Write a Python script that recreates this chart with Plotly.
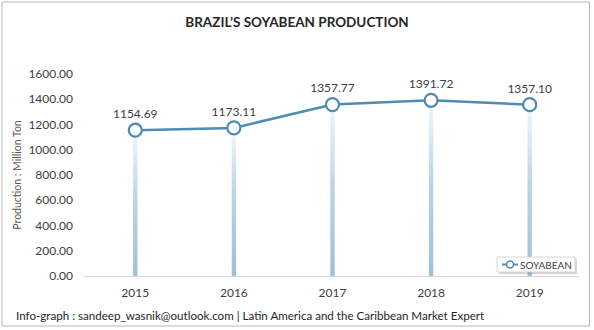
import plotly.graph_objects as go

# Brazil soyabean production, million ton
years = [2015, 2016, 2017, 2018, 2019]
production = [1154.69, 1173.11, 1357.77, 1391.72, 1357.10]
series_name = "SOYABEAN"
y_ticks = [0, 200, 400, 600, 800, 1000, 1200, 1400, 1600]

W, H = 594, 330
M_L, M_R, M_T, M_B = 84, 15, 74, 54
FONT = "Lato"
LINE_COLOR = "#4f8bb3"

fig = go.Figure()

# drop lines from each point down to the baseline, shaded with a vertical gradient
half = 0.022
for yr, val in zip(years, production):
    fig.add_trace(go.Scatter(
        x=[yr - half, yr + half], y=[val, val],
        mode="lines", line=dict(width=0),
        fill="tozeroy",
        fillgradient=dict(type="vertical",
                          colorscale=[[0, "#9dc1d9"], [0.55, "#bcd5e5"], [1, "#f4f8fb"]]),
        hoverinfo="skip", showlegend=False,
    ))

fig.add_trace(go.Scatter(
    x=years, y=production, name=series_name,
    mode="lines+markers+text",
    line=dict(color=LINE_COLOR, width=2.5),
    marker=dict(symbol="circle", size=13, color="white",
                line=dict(color=LINE_COLOR, width=2.2)),
    text=[f"{v:.2f}" for v in production],
    textposition="top center",
    textfont=dict(family=FONT, size=12, color="#404040"),
    cliponaxis=False, showlegend=False,
))

pw = W - M_L - M_R
ph = H - M_T - M_B

def px(x):
    return (x - M_L) / pw

def py(y):
    return (H - M_B - y) / ph

# compact legend box drawn in paper space
LX0, LX1, LY0, LY1 = 497, 575, 257, 272
LYC = (LY0 + LY1) / 2
shapes = [
    # outer chart border
    dict(type="rect", xref="paper", yref="paper",
         x0=px(2), x1=px(589.5), y0=py(326), y1=py(2),
         line=dict(color="#b8b8b8", width=1), layer="below"),
    # legend shadow and box
    dict(type="rect", xref="paper", yref="paper",
         x0=px(LX0 + 2), x1=px(LX1 + 2), y0=py(LY1 + 2), y1=py(LY0 + 2),
         line=dict(width=0), fillcolor="rgba(0,0,0,0.16)", layer="above"),
    dict(type="rect", xref="paper", yref="paper",
         x0=px(LX0), x1=px(LX1), y0=py(LY1), y1=py(LY0),
         line=dict(color="#d6d6d6", width=1), fillcolor="white", layer="above"),
    # legend key: short line with open circle
    dict(type="line", xref="paper", yref="paper",
         x0=px(502), x1=px(518), y0=py(LYC), y1=py(LYC),
         line=dict(color=LINE_COLOR, width=2), layer="above"),
    dict(type="circle", xref="paper", yref="paper",
         x0=px(506.5), x1=px(513.5), y0=py(LYC + 3.5), y1=py(LYC - 3.5),
         line=dict(color=LINE_COLOR, width=1.6), fillcolor="white", layer="above"),
]

fig.update_layout(
    width=W, height=H,
    margin=dict(l=M_L, r=M_R, t=M_T, b=M_B),
    paper_bgcolor="white", plot_bgcolor="white",
    font=dict(family=FONT, color="#595959"),
    showlegend=False,
    title=dict(text="<b>BRAZIL’S SOYABEAN PRODUCTION</b>",
               x=0.5, xref="container", xanchor="center",
               y=1 - 22 / H, yanchor="middle",
               font=dict(family=FONT, size=13.5, color="#262626")),
    xaxis=dict(range=[2014.48, 2019.5], tickvals=years,
               ticktext=[str(y) for y in years],
               showgrid=False, zeroline=False,
               showline=True, linecolor="#d9d9d9", linewidth=1,
               ticks="", ticklabelstandoff=6,
               tickfont=dict(family=FONT, size=12, color="#404040")),
    yaxis=dict(range=[0, 1600], tickvals=y_ticks,
               ticktext=[f"{v:.2f}" for v in y_ticks],
               showgrid=False, zeroline=False, showline=False,
               ticks="", ticklabelstandoff=10,
               tickfont=dict(family=FONT, size=12, color="#404040"),
               title=dict(text="Production : Million Ton", standoff=4,
                          font=dict(family=FONT, size=10.5, color="#595959"))),
    shapes=shapes,
    annotations=[
        dict(text="Info-graph : sandeep_wasnik@outlook.com | Latin America and the Caribbean Market Expert",
             xref="paper", yref="paper", x=px(14), y=py(315),
             xanchor="left", yanchor="middle", showarrow=False,
             font=dict(family=FONT, size=11.6, color="#262626")),
        dict(text=series_name,
             xref="paper", yref="paper", x=px(518), y=py(LYC),
             xanchor="left", yanchor="middle", showarrow=False,
             font=dict(family=FONT, size=10, color="#404040")),
    ],
)

fig.write_html("out.html")
